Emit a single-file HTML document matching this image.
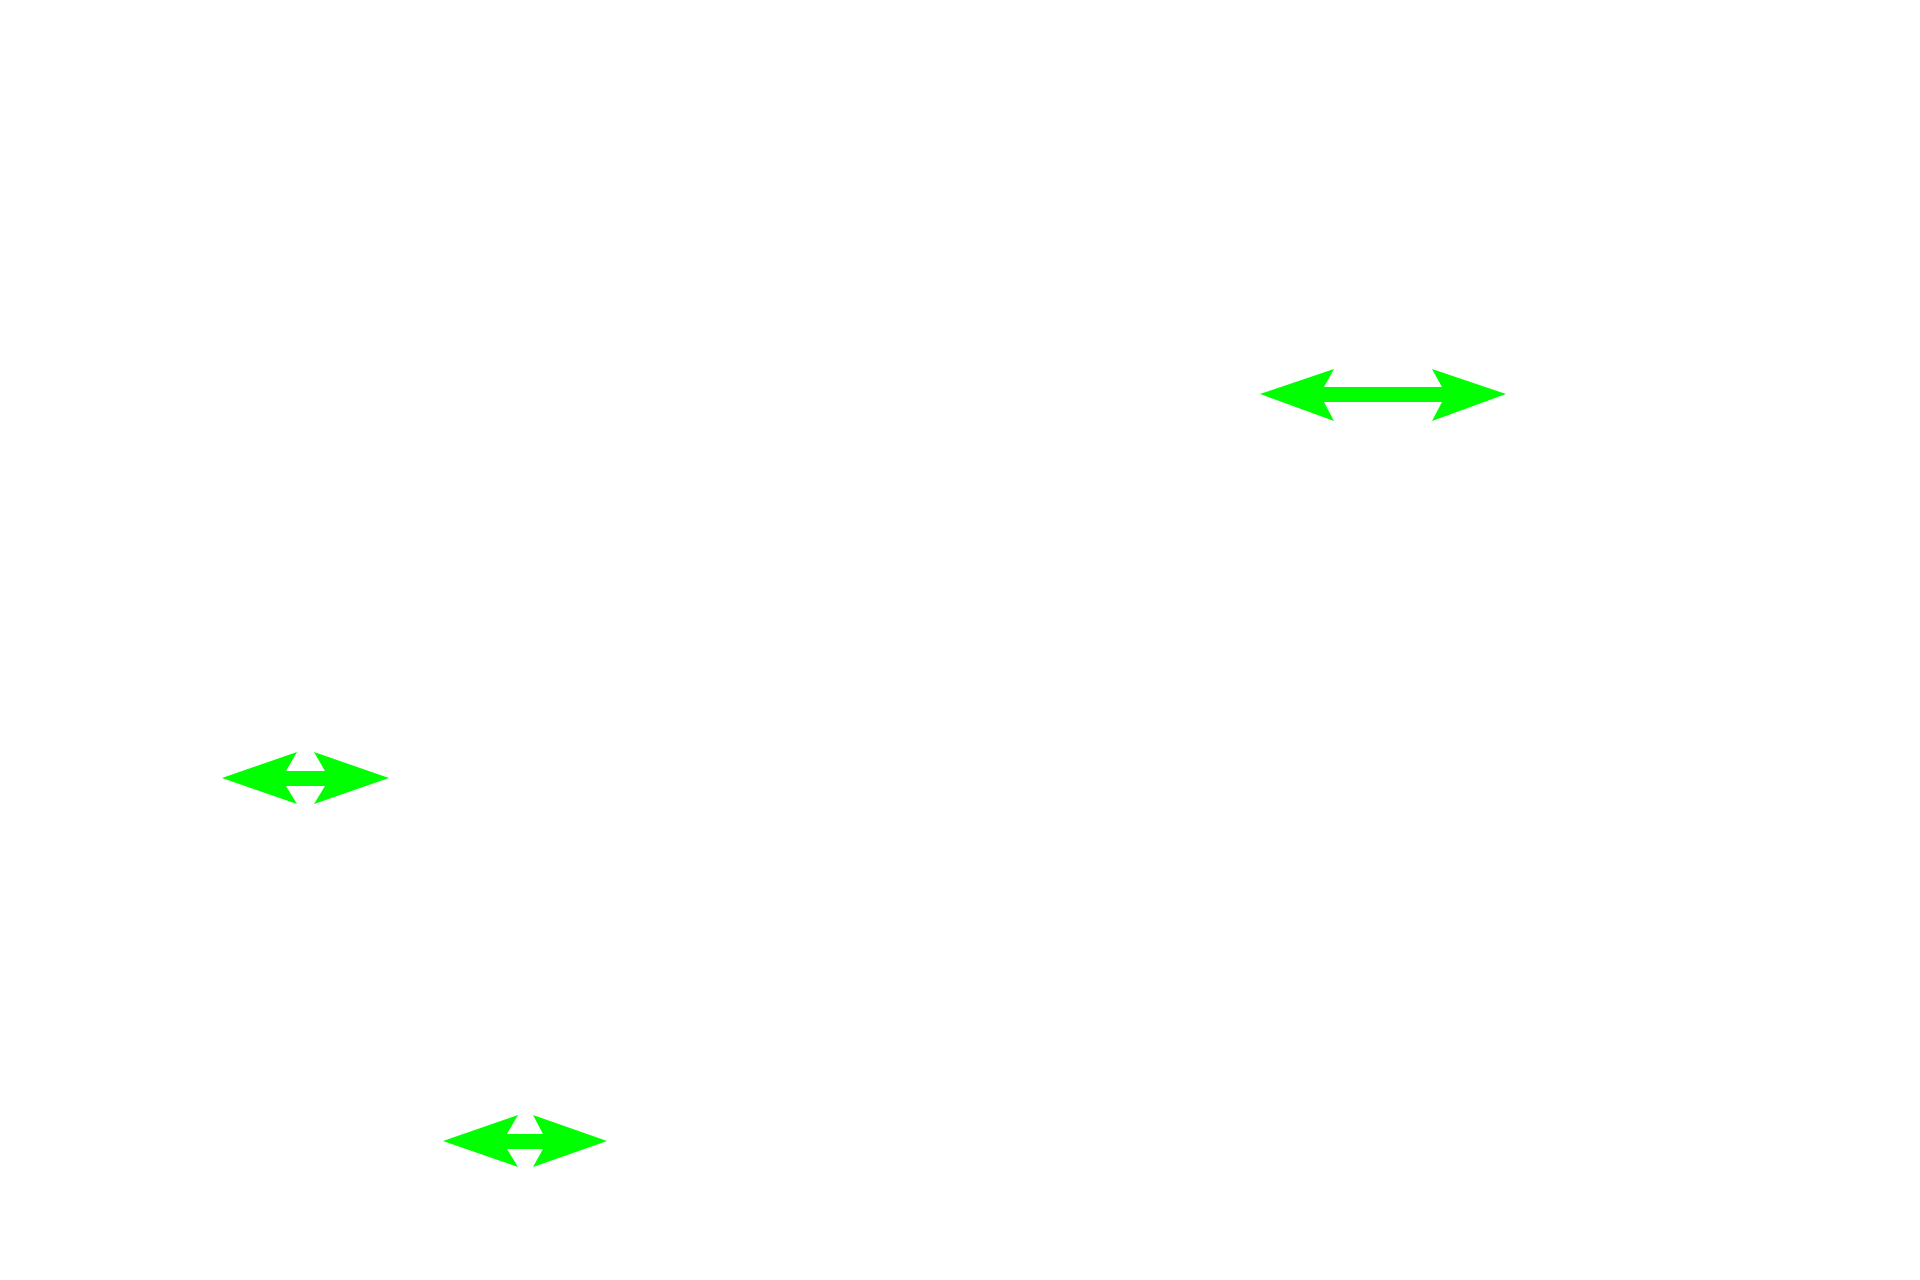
<!DOCTYPE html>
<html><head><meta charset="utf-8"><style>html,body{margin:0;padding:0;background:#fff;width:1920px;height:1280px;overflow:hidden}</style></head>
<body>
<svg width="1920" height="1280" viewBox="0 0 1920 1280" xmlns="http://www.w3.org/2000/svg">
<g fill="#00ff00">
<polygon points="1260,394 1334,369 1324,387 1442,387 1432,369 1506,394 1432,421 1442,402 1324,402 1334,421"/>
<polygon points="222,778 297,752 286,771 325,771 314,752 389,778 314,804 325,786 286,786 297,804"/>
<polygon points="443,1141 518,1115 507,1134 543,1134 533,1115 607,1141 533,1167 543,1149 507,1149 518,1167"/>
</g>
</svg>
</body></html>
